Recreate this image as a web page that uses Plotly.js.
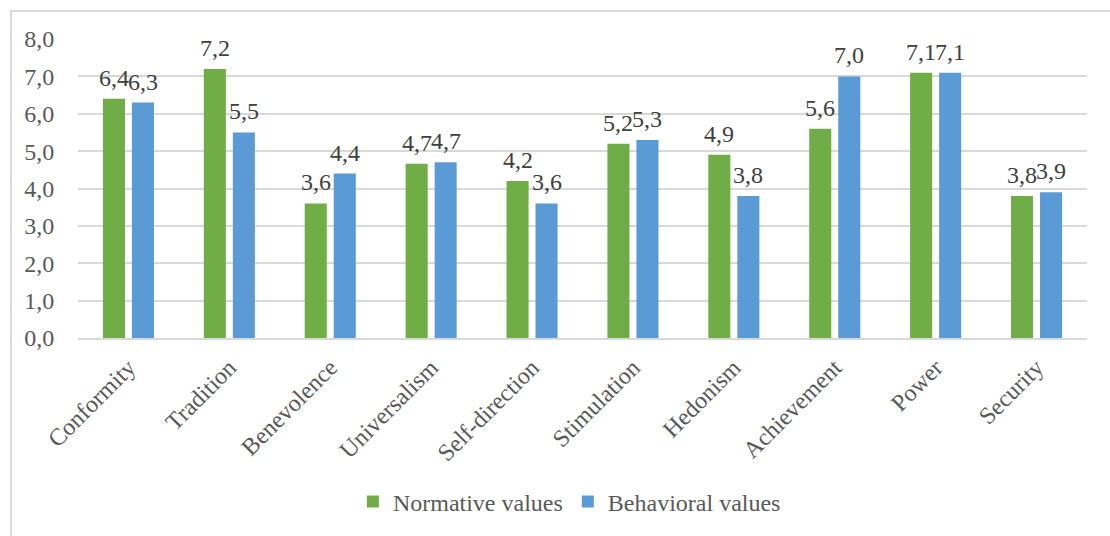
<!DOCTYPE html>
<html>
<head>
<meta charset="utf-8">
<script src="https://cdn.plot.ly/plotly-3.0.1.min.js"></script>
<style>
html,body{margin:0;padding:0;background:#fff;}
#wrap{position:relative;width:1110px;height:536px;overflow:hidden;}
#chart{position:absolute;left:0;top:0;width:1110px;height:536px;}
#frame{position:absolute;left:10px;top:10px;width:1200px;height:700px;border:2px solid #d9d9d9;pointer-events:none;box-sizing:border-box;}
</style>
</head>
<body>
<div id="wrap"><div id="chart"></div><div id="frame"></div></div>
<script>
const categories = ["Conformity","Tradition","Benevolence","Universalism","Self-direction","Stimulation","Hedonism","Achievement","Power","Security"];
const normativeValues = [6.4, 7.2, 3.6, 4.66, 4.2, 5.2, 4.9, 5.6, 7.1, 3.8];
const behavioralValues = [6.3, 5.5, 4.4, 4.7, 3.6, 5.3, 3.8, 7.0, 7.1, 3.9];
const seriesNames = ["Normative values", "Behavioral values"];
const yTickVals = [0,1,2,3,4,5,6,7,8];

const serif = "Liberation Serif";
const labelFont = {family: serif, size: 24, color: "#404040"};

function fmt(v){ return v.toFixed(1).replace(".", ","); }

const traces = [
  {type:"bar", name:seriesNames[0], x:categories, y:normativeValues,
   marker:{color:"#70AD47"}, hoverinfo:"skip"},
  {type:"bar", name:seriesNames[1], x:categories, y:behavioralValues,
   marker:{color:"#5B9BD5"}, hoverinfo:"skip"}
];

// data labels as annotations above each bar (offset left/right to match the grouped bars)
const annotations = [];
[normativeValues, behavioralValues].forEach((vals, si) => {
  vals.forEach((v, i) => {
    annotations.push({xref:"x", yref:"y", x:categories[i], y:v, text:fmt(v),
      xshift: si === 0 ? -14.5 : 14.5, yshift:7, yanchor:"bottom", xanchor:"center",
      showarrow:false, font:labelFont, borderpad:0});
  });
});

const layout = {
  width:1110, height:536,
  font:{family:serif, size:24, color:"#595959"},
  margin:{l:78, r:23, t:39, b:196},
  paper_bgcolor:"rgba(0,0,0,0)", plot_bgcolor:"rgba(0,0,0,0)",
  barmode:"group", bargap:0.425, bargroupgap:0.24,
  showlegend:true,
  annotations:annotations,
  legend:{orientation:"h", x:0.487, xanchor:"center", y:-0.548, yanchor:"middle",
          font:{family:serif, size:24, color:"#595959"}, itemwidth:30, traceorder:"normal"},
  xaxis:{type:"category", tickangle:-45, tickfont:{family:serif, size:24, color:"#595959"},
         showgrid:false, showline:true, linecolor:"#d9d9d9", linewidth:2,
         ticks:"outside", ticklen:4, tickcolor:"rgba(0,0,0,0)", fixedrange:true},
  yaxis:{range:[0,8], tickvals:yTickVals, ticktext:yTickVals.map(fmt),
         tickfont:{family:serif, size:24, color:"#595959"},
         showgrid:true, gridcolor:"#d9d9d9", gridwidth:2, zeroline:false,
         showline:false, ticks:"outside", ticklen:18, tickcolor:"rgba(0,0,0,0)", fixedrange:true}
};

Plotly.newPlot("chart", traces, layout, {staticPlot:true, displayModeBar:false});
</script>
</body>
</html>
